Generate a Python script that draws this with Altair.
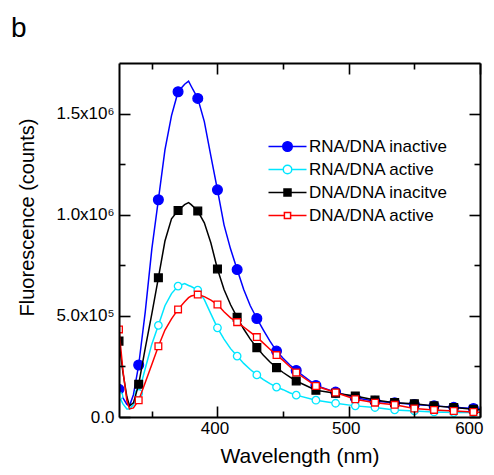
import altair as alt
import pandas as pd

FONT = "Liberation Sans"

series_names = ["RNA/DNA inactive", "RNA/DNA active", "DNA/DNA inacitve", "DNA/DNA active"]
line_colors = ["#0000ff", "#00e6ff", "#000000", "#ff0000"]
marker_fills = ["#0000ff", "#ffffff", "#000000", "#ffffff"]
marker_shapes = ["circle", "circle", "square", "square"]
marker_sizes = [95, 56, 60, 45]
panel_label = ["b"]

# continuous traces (values in units of 1e5 counts)
line_x = [325, 328, 331, 333, 336, 340, 345, 350, 355, 360, 365, 370, 375, 378, 380,
          385, 390, 395, 400, 405, 410, 415, 420, 425, 430, 435, 440, 445, 450, 455,
          460, 475, 490, 505, 520, 535, 550, 565, 580, 595, 600]
blue_line = [1.37, 0.95, 0.62, 0.55, 1.1, 2.57, 5.2, 8.3, 10.74, 13.2, 14.9, 16.08, 16.45, 16.6, 16.35,
             15.75, 14.6, 12.9, 11.23, 9.5, 8.3, 7.29, 6.3, 5.5, 4.87, 4.3, 3.75, 3.26, 2.9, 2.58,
             2.3, 1.56, 1.23, 0.95, 0.78, 0.7, 0.62, 0.55, 0.48, 0.42, 0.4]
cyan_line = [1.04, 0.65, 0.4, 0.4, 0.6, 1.17, 2.4, 3.6, 4.53, 5.5, 6.1, 6.47, 6.6, 6.5, 6.45,
             6.27, 5.8, 5.1, 4.41, 3.85, 3.38, 3.01, 2.65, 2.35, 2.08, 1.85, 1.65, 1.48, 1.35, 1.2,
             1.08, 0.83, 0.68, 0.55, 0.47, 0.35, 0.3, 0.25, 0.22, 0.22, 0.22]
black_line = [3.75, 2.2, 1.0, 0.55, 0.7, 1.62, 3.4, 5.1, 6.88, 8.7, 9.8, 10.21, 10.5, 10.6, 10.5,
              10.18, 9.6, 8.6, 7.32, 6.3, 5.55, 4.93, 4.35, 3.85, 3.43, 3.05, 2.72, 2.44, 2.2, 1.98,
              1.78, 1.32, 1.17, 1.04, 0.84, 0.71, 0.66, 0.55, 0.47, 0.38, 0.36]
red_line = [4.33, 2.3, 0.8, 0.4, 0.45, 0.83, 1.7, 2.6, 3.5, 4.3, 4.85, 5.32, 5.7, 5.9, 5.98,
            6.05, 5.95, 5.78, 5.56, 5.2, 4.9, 4.69, 4.45, 4.2, 3.95, 3.65, 3.35, 3.06, 2.8, 2.5,
            2.2, 1.53, 1.21, 0.88, 0.71, 0.6, 0.42, 0.35, 0.3, 0.25, 0.24]

# markers (every 15 nm)
marker_x = [325, 340, 355, 370, 385, 400, 415, 430, 445, 460, 475, 490, 505, 520, 535, 550, 565, 580, 595]
blue_pts = [1.37, 2.57, 10.74, 16.08, 15.75, 11.23, 7.29, 4.87, 3.26, 2.3, 1.56, 1.23, 0.95, 0.78, 0.7, 0.62, 0.55, 0.48, 0.42]
cyan_pts = [1.04, 1.17, 4.53, 6.47, 6.27, 4.41, 3.01, 2.08, 1.48, 1.08, 0.83, 0.68, 0.55, 0.47, 0.35, 0.3, 0.25, 0.22, 0.22]
black_pts = [3.75, 1.62, 6.88, 10.21, 10.18, 7.32, 4.93, 3.43, 2.44, 1.78, 1.32, 1.17, 1.04, 0.84, 0.71, 0.66, 0.55, 0.47, 0.38]
red_pts = [4.33, 0.83, 3.5, 5.32, 6.05, 5.56, 4.69, 3.95, 3.06, 2.2, 1.53, 1.21, 0.88, 0.71, 0.6, 0.42, 0.35, 0.3, 0.25]

x_major = [400, 500, 600]
x_minor = [350, 450, 550]
y_major = [0, 500000, 1000000, 1500000]
y_minor = [250000, 750000, 1250000]
y_labels = ["0.0", "5.0x10\u2075", "1.0x10\u2076", "1.5x10\u2076"]

UNIT = 1e5

# legend symbols: line with marker (custom SVG paths)
def circ(r):
    return f"M-3.8,0H-{r}M{r},0H3.8M{r},0A{r},{r},0,1,1,-{r},0A{r},{r},0,1,1,{r},0Z"
def sq(s):
    return f"M-3.8,0H-{s}M{s},0H3.8M-{s},-{s}H{s}V{s}H-{s}Z"
legend_paths = [circ(0.95), circ(0.85), sq(0.7), sq(0.62)]

xs = alt.Scale(domain=[325, 600], nice=False, zero=False)
ys = alt.Scale(domain=[0, 1750000], nice=False, zero=False)

label_expr = " : ".join(f"datum.value == {v} ? '{lab}'" for v, lab in zip(y_major, y_labels)) + " : ''"


def axis(orient, values, size, **kw):
    base = dict(orient=orient, values=values, tickSize={"expr": str(-size)},
                tickColor="black", tickWidth=1.6, domainColor="black", domainWidth=2,
                grid=False, zindex=1, labels=False, domain=False)
    base.update(kw)
    return alt.Axis(**base)

bottom_major = axis("bottom", x_major, 11, labels=True, domain=True, labelFont=FONT,
                    labelFontSize=17, labelColor="black", labelPadding=14, labelFlush=True,
                    labelFlushOffset=6, labelOffset=-3, titleFont=FONT, titleFontSize=21,
                    titleFontWeight="normal", titleColor="black", titleY=45,
                    titleBaseline="alphabetic")
left_major = axis("left", y_major, 11, labels=True, domain=True, labelFont=FONT,
                  labelFontSize=17, labelColor="black", labelPadding=16, labelFlush=False,
                  labelExpr=label_expr, titleFont=FONT, titleFontSize=20, titleFontWeight="normal",
                  titleColor="black", titleX=-86, titleY=154, titleAlign="center",
                  titleBaseline="alphabetic", titleAngle=270)
axis_pairs = [
    (bottom_major, left_major, "Wavelength (nm)", "Fluorescence (counts)"),
    (axis("bottom", x_minor, 6), axis("left", y_minor, 6), None, None),
    (axis("top", x_major, 11, domain=True), axis("right", y_major, 11, domain=True), None, None),
    (axis("top", x_minor, 6), axis("right", y_minor, 6), None, None),
]

# legend-only layer (draws no marks; its scales make the legend)
legend_df = pd.DataFrame({"series": series_names})
legend_layer = alt.Chart(legend_df).transform_filter("false").mark_point(filled=True, opacity=1).encode(
    shape=alt.Shape("series:N", scale=alt.Scale(domain=series_names, range=legend_paths),
                    legend=alt.Legend(title=None)),
    stroke=alt.Stroke("series:N", scale=alt.Scale(domain=series_names, range=line_colors),
                      legend=alt.Legend(title=None)),
    fill=alt.Fill("series:N", scale=alt.Scale(domain=series_names, range=marker_fills),
                  legend=alt.Legend(title=None)),
)

layers = [legend_layer]
k = 0
for i, name in enumerate(series_names):
    lv = [blue_line, cyan_line, black_line, red_line][i]
    pv = [blue_pts, cyan_pts, black_pts, red_pts][i]
    ldf = pd.DataFrame({"wl": line_x, "val": [v * UNIT for v in lv]})
    pdf = pd.DataFrame({"wl": marker_x, "val": [v * UNIT for v in pv]})
    for kind, df in (("line", ldf), ("pts", pdf)):
        if k < len(axis_pairs):
            xa, ya, xt, yt = axis_pairs[k]
            xenc = alt.X("wl:Q", scale=xs, axis=xa, title=xt)
            yenc = alt.Y("val:Q", scale=ys, axis=ya, title=yt)
        else:
            xenc = alt.X("wl:Q", scale=xs, axis=None)
            yenc = alt.Y("val:Q", scale=ys, axis=None)
        k += 1
        if kind == "line":
            mark = alt.Chart(df).mark_line(strokeWidth=1.5, clip=True, color=line_colors[i])
        else:
            mark = alt.Chart(df).mark_point(shape=marker_shapes[i], filled=True, opacity=1,
                                            size=marker_sizes[i], strokeWidth=1.3, clip=True,
                                            stroke=line_colors[i], fill=marker_fills[i])
        layers.append(mark.encode(x=xenc, y=yenc))

label_layer = alt.Chart(pd.DataFrame({"t": panel_label})).mark_text(
    font=FONT, fontSize=28, color="black", align="left", baseline="alphabetic"
).encode(text="t:N", x=alt.value(-108), y=alt.value(-26))
layers.append(label_layer)

chart = alt.layer(*layers).resolve_axis(
    x="independent", y="independent"
).properties(
    width=361, height=354,
    autosize=alt.AutoSizeParams(type="none"),
    padding={"left": 111, "top": 55, "right": 6, "bottom": 50},
).configure_view(stroke=None).configure_legend(
    orient="none", legendX=160, legendY=75, padding=0, labelFont=FONT, labelFontSize=17,
    labelColor="black", labelOffset=13, rowPadding=5, symbolSize=100, symbolStrokeWidth=1.5,
)

chart.save("out.html", embed_options={"renderer": "svg", "actions": False})
